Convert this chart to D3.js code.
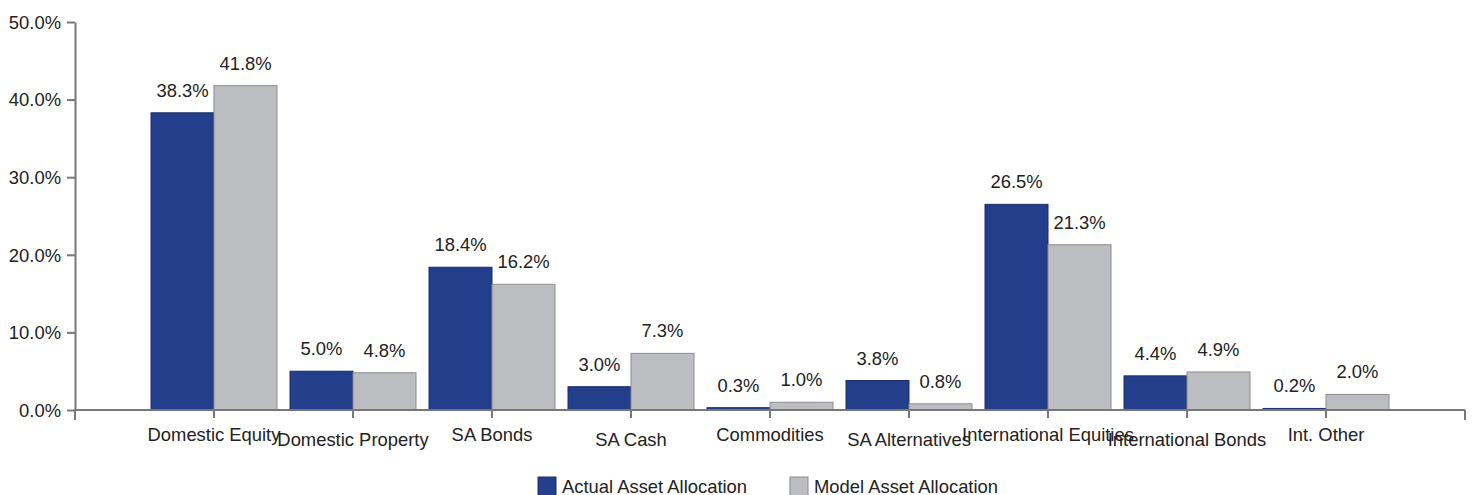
<!DOCTYPE html>
<html>
<head>
<meta charset="utf-8">
<script src="https://cdn.jsdelivr.net/npm/d3@7"></script>
<style>
  body { margin: 0; background: #fff; }
  svg { display: block; }
  text { font-family: "Liberation Sans", Arial, sans-serif; fill: #222; }
</style>
</head>
<body>
<svg id="chart" width="1472" height="495"></svg>
<script>
// Chart data
const categories = ["Domestic Equity", "Domestic Property", "SA Bonds", "SA Cash", "Commodities",
                    "SA Alternatives", "International Equities", "International Bonds", "Int. Other"];
const actual = [38.3, 5.0, 18.4, 3.0, 0.3, 3.8, 26.5, 4.4, 0.2];
const model = [41.8, 4.8, 16.2, 7.3, 1.0, 0.8, 21.3, 4.9, 2.0];
const seriesNames = ["Actual Asset Allocation", "Model Asset Allocation"];
const yTicks = [0, 10, 20, 30, 40, 50];

const blue = "#233f8c", grey = "#bcbdc1";
const fontSize = "18.4px";

let svg = d3.select("#chart");

// axis area (left edge of x axis, right end tick)
let plotLeft = 75, plotRight = 1465, plotBottom = 410, plotTop = 22;
let step = (plotRight - plotLeft) / (categories.length + 1);

// categories sit on the ticks, one step in from each end
let x = d3.scalePoint().domain(categories).range([plotLeft + step, plotRight - step]);
let y = d3.scaleLinear().domain([0, 50]).range([plotBottom, plotTop]);
let barW = 63;

// y axis
let yAxis = svg.append("g")
    .attr("transform", `translate(${plotLeft},0)`)
    .call(d3.axisLeft(y).tickValues(yTicks).tickFormat(d => d.toFixed(1) + "%").tickSize(8).tickSizeOuter(0));
yAxis.select(".domain").attr("stroke", "#777").attr("stroke-width", 2);
yAxis.selectAll(".tick line").attr("stroke", "#777").attr("stroke-width", 2);
yAxis.selectAll(".tick text").attr("x", -14).attr("dy", "0.34em").style("font-size", fontSize).attr("fill", "#222")
    .style("font-family", "'Liberation Sans', Arial, sans-serif");

// bars
let series = [actual, model];
let colors = [blue, grey];
let strokes = ["#1a2f6a", "#8c8c8e"];
series.forEach((vals, s) => {
    svg.append("g").selectAll("rect")
        .data(vals)
        .enter()
        .append("rect")
        .attr("x", (d, i) => x(categories[i]) - barW + s * barW)
        .attr("y", d => y(d))
        .attr("width", barW)
        .attr("height", d => plotBottom - y(d))
        .attr("fill", colors[s])
        .attr("stroke", strokes[s])
        .attr("stroke-width", 1);

    // value labels above the bars
    svg.append("g").selectAll("text")
        .data(vals)
        .enter()
        .append("text")
        .attr("x", (d, i) => x(categories[i]) - barW / 2 + s * barW)
        .attr("y", d => y(d) - 16)
        .attr("text-anchor", "middle")
        .style("font-size", fontSize)
        .text(d => d.toFixed(1) + "%");
});

// x axis line and ticks
let xg = svg.append("g");
xg.append("line")
    .attr("x1", plotLeft).attr("x2", plotRight)
    .attr("y1", plotBottom).attr("y2", plotBottom)
    .attr("stroke", "#777").attr("stroke-width", 2);
let tickXs = [plotLeft].concat(categories.map(c => x(c))).concat([plotRight]);
xg.selectAll(".xtick")
    .data(tickXs)
    .enter()
    .append("line")
    .attr("x1", d => d).attr("x2", d => d)
    .attr("y1", plotBottom).attr("y2", (d, i) => (i === 0 || i === tickXs.length - 1) ? plotBottom + 10 : plotBottom + 8)
    .attr("stroke", "#777").attr("stroke-width", 2);

// category labels, staggered
xg.selectAll(".xlabel")
    .data(categories)
    .enter()
    .append("text")
    .attr("x", d => x(d))
    .attr("y", (d, i) => i % 2 === 0 ? 441 : 446)
    .attr("text-anchor", "middle")
    .style("font-size", fontSize)
    .text(d => d);

// legend
let legend = svg.append("g");
let legendX = [538, 790];
seriesNames.forEach((name, s) => {
    legend.append("rect")
        .attr("x", legendX[s]).attr("y", 477)
        .attr("width", 18).attr("height", 20)
        .attr("fill", colors[s])
        .attr("stroke", strokes[s]);
    legend.append("text")
        .attr("x", legendX[s] + 24).attr("y", 493)
        .style("font-size", fontSize)
        .text(name);
});
</script>
</body>
</html>
